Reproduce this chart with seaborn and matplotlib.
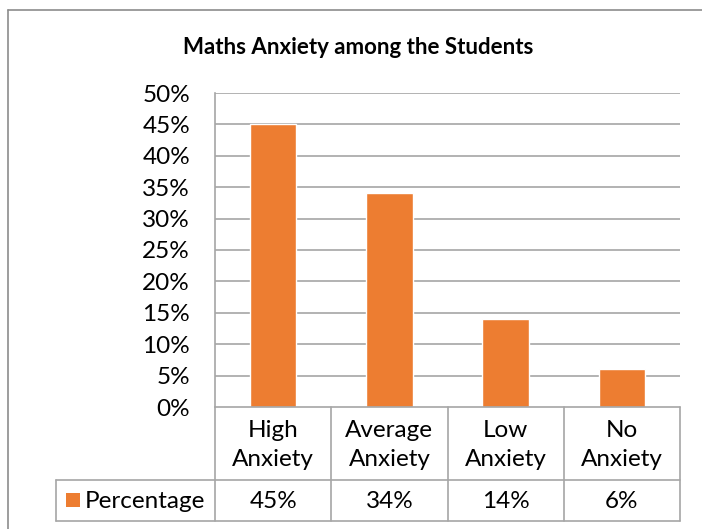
import matplotlib
matplotlib.use("Agg")
import matplotlib.pyplot as plt
from matplotlib.lines import Line2D
from matplotlib.patches import Rectangle
import seaborn as sns
import pandas as pd

categories = ["High Anxiety", "Average Anxiety", "Low Anxiety", "No Anxiety"]
percentages = [45, 34, 14, 6]
series_name = "Percentage"
title = "Maths Anxiety among the Students"
yticks = [0, 5, 10, 15, 20, 25, 30, 35, 40, 45, 50]

BAR = "#ED7D31"
GRID = "#A6A6A6"
FONT = "Lato"
FS = 17.5

sns.set_theme(style="white")
plt.rcParams['font.family'] = [FONT, 'DejaVu Sans']

W, H = 702, 529
fig = plt.figure(figsize=(W / 100, H / 100), dpi=100)

L, R, T, B = 215, 680, 93, 407
ax = fig.add_axes([L / W, 1 - B / H, (R - L) / W, (B - T) / H])

df = pd.DataFrame({"cat": categories, "val": percentages})
sns.barplot(data=df, x="cat", y="val", color=BAR, saturation=1, width=0.4, ax=ax, zorder=3)

ax.set_xlim(-0.5, len(categories) - 0.5)
ax.set_ylim(0, 50)
ax.set_yticks(yticks)
ax.set_yticklabels([f"{t}%" for t in yticks], fontsize=FS, color="black")
ax.tick_params(axis="y", length=0, pad=18)
ax.set_xticks([])
ax.set_xlabel("")
ax.set_ylabel("")
for s in ["top", "right", "bottom"]:
    ax.spines[s].set_visible(False)
ax.spines["left"].set_color(GRID)
ax.spines["left"].set_linewidth(1.2)
for t in yticks:
    if t > 0:
        ax.axhline(t, color=GRID, lw=1.2, zorder=1)

# data table
tr = ax.get_xaxis_transform()
axh = B - T
y1 = -(480 - B) / axh
y2 = -(521 - B) / axh
xpx = (R - L) / len(categories)
xleg = -0.5 - (L - 56) / xpx
n = len(categories)

def line(xs, ys):
    ax.add_line(Line2D(xs, ys, transform=tr, color=GRID, lw=1.2, clip_on=False, zorder=4))

line([-0.5, n - 0.5], [0, 0])
line([xleg, n - 0.5], [y1, y1])
line([xleg, n - 0.5], [y2, y2])
for i in range(n + 1):
    line([i - 0.5, i - 0.5], [0, y2])
line([xleg, xleg], [y1, y2])

for i, (c, v) in enumerate(zip(categories, percentages)):
    ax.text(i, y1 / 2 - 0.004, "\n".join(c.split(" ")), transform=tr, ha="center", va="center",
            fontsize=FS, linespacing=1.5, color="black")
    ax.text(i, (y1 + y2) / 2 - 0.004, f"{v}%", transform=tr, ha="center", va="center",
            fontsize=FS, color="black")

# legend key in table
fig.patches.append(Rectangle((66 / W, 1 - 507 / H), 14 / W, 14 / H, transform=fig.transFigure,
                             facecolor=BAR, edgecolor="none"))
fig.text(85 / W, 1 - 501 / H, series_name, ha="left", va="center", fontsize=FS, color="black")

fig.text((181 + 536) / 2 / W, 1 - 47 / H, title, ha="center", va="center",
         fontsize=16, fontweight="bold", color="black")

# chart border
fig.add_artist(Line2D([8 / W, 8 / W], [0, 1 - 10 / H], transform=fig.transFigure, color="#8C8C8C", lw=1.2))
fig.add_artist(Line2D([8 / W, 1], [1 - 10 / H, 1 - 10 / H], transform=fig.transFigure, color="#8C8C8C", lw=1.2))

fig.savefig("out.png", dpi=100)
